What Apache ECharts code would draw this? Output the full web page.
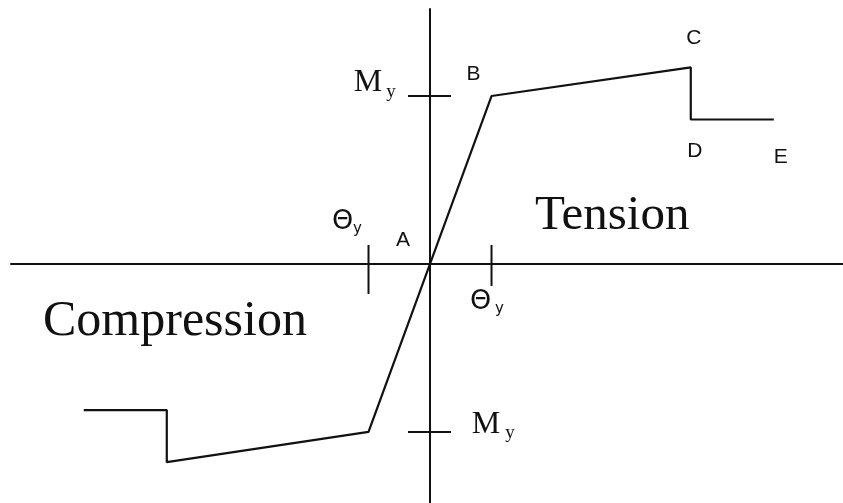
<!DOCTYPE html>
<html><head><meta charset="utf-8">
<script src="https://cdn.jsdelivr.net/npm/echarts@6/dist/echarts.min.js"></script>
<style>html,body{margin:0;padding:0;background:#fff}#c{width:843px;height:503px}</style>
</head><body><div id="c"></div>
<script>
// rotation in units of θy, moment in units of My
const thetaNorm  = [-5.63, -4.28, -4.28, -1, 0, 1, 4.24, 4.24, 5.59];
const momentNorm = [-0.87, -0.87, -1.18, -1, 0, 1, 1.17, 0.86, 0.86];
const pointNames = ['', '', '', '', 'A', 'B', 'C', 'D', 'E'];
const thetaTicks = [-1, 1];
const momentTicks = [1, -1];
const tickSymbol = { theta: ['Θ', 'y'], moment: ['M', 'y'] };
const regionLabels = ['Tension', 'Compression'];

const INK = '#111';
const chart = echarts.init(document.getElementById('c'), null, { renderer: 'canvas' });

const curveData = thetaNorm.map((t, i) => [t, momentNorm[i]]);
const namedPoints = curveData.map((p, i) => [p[0], p[1], i]).filter(p => pointNames[p[2]]);

// label placement (pixels relative to the point)
const ptLabelOffset = { A: [-27, -24], B: [-18, -22], C: [3, -29], D: [4, 32], E: [7, 38] };

function txt(x, y, text, font, size, align) {
  return { type: 'text', style: { x: x, y: y, text: text, fontFamily: font, fontSize: size,
    fill: '#111', align: align || 'center', verticalAlign: 'middle' } };
}

const option = {
  animation: false,
  backgroundColor: '#fff',
  grid: { left: 11, right: 0, top: 9, bottom: 0, containLabel: false },
  xAxis: { type: 'value', min: -6.813, max: 6.715,
    axisLine: { onZero: true, lineStyle: { color: INK, width: 2 } },
    axisTick: { show: false }, axisLabel: { show: false }, splitLine: { show: false } },
  yAxis: { type: 'value', min: -1.423, max: 1.518,
    axisLine: { onZero: true, lineStyle: { color: INK, width: 2 } },
    axisTick: { show: false }, axisLabel: { show: false }, splitLine: { show: false } },
  series: [
    { type: 'line', data: curveData, symbol: 'none', silent: true,
      lineStyle: { color: INK, width: 2.2 }, z: 3 },
    { type: 'custom', data: thetaTicks.map(v => [v, 0]), silent: true, z: 4,
      renderItem: (params, api) => {
        const v = api.value(0);
        const p = api.coord([v, 0]);
        const neg = v < 0;
        const th = neg ? [-26, -42] : [-11, 38];
        const sb = neg ? [-11, -35] : [8, 45];
        return { type: 'group', children: [
          { type: 'line', shape: { x1: p[0], y1: p[1] - 19, x2: p[0], y2: p[1] + (neg ? 30 : 22) },
            style: { stroke: INK, lineWidth: 2 } },
          txt(p[0] + th[0], p[1] + th[1], tickSymbol.theta[0], 'DejaVu Sans', 27),
          txt(p[0] + sb[0], p[1] + sb[1], tickSymbol.theta[1], 'DejaVu Sans', 15)
        ] };
      } },
    { type: 'custom', data: momentTicks.map(v => [0, v]), silent: true, z: 4,
      renderItem: (params, api) => {
        const v = api.value(1);
        const p = api.coord([0, v]);
        const pos = v > 0;
        const m = pos ? [-62, -13] : [56, -7];
        const sb = pos ? [-39, -4] : [80, 1];
        return { type: 'group', children: [
          { type: 'line', shape: { x1: p[0] - 22, y1: p[1], x2: p[0] + 21, y2: p[1] },
            style: { stroke: INK, lineWidth: 2 } },
          txt(p[0] + m[0], p[1] + m[1], tickSymbol.moment[0], 'Liberation Serif', 32),
          txt(p[0] + sb[0], p[1] + sb[1], tickSymbol.moment[1], 'Liberation Serif', 19)
        ] };
      } },
    { type: 'custom', data: namedPoints, silent: true, z: 5,
      renderItem: (params, api) => {
        const name = pointNames[api.value(2)];
        const p = api.coord([api.value(0), api.value(1)]);
        const o = ptLabelOffset[name];
        return txt(p[0] + o[0], p[1] + o[1], name, 'Liberation Sans', 21);
      } }
  ],
  graphic: [
    { type: 'text', left: 535, top: 192, style: { text: regionLabels[0], fontFamily: 'Liberation Serif', fontSize: 49, fill: '#111' } },
    { type: 'text', left: 43, top: 297, style: { text: regionLabels[1], fontFamily: 'Liberation Serif', fontSize: 50, fill: '#111' } }
  ]
};
chart.setOption(option);
</script></body></html>
